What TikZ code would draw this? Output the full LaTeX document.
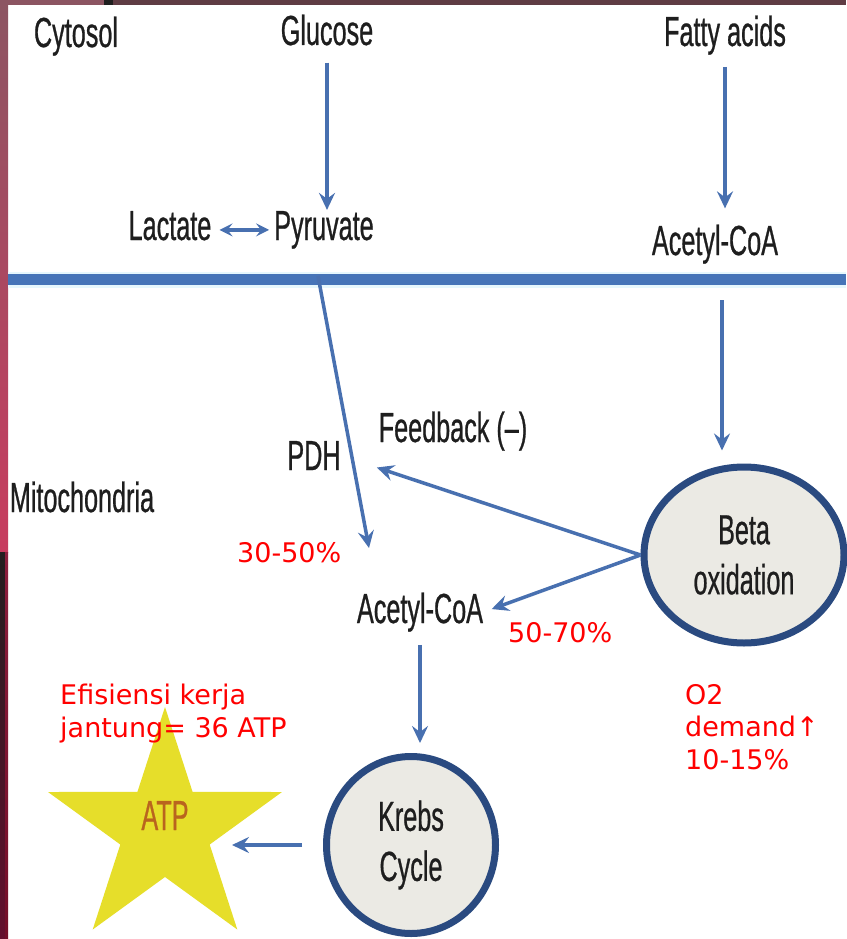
\documentclass[tikz,border=0pt]{standalone}
\usepackage{fontspec}
\setmainfont{Liberation Sans}
\newfontfamily\narrowsans[FakeStretch=0.6,FakeBold=0.6]{Liberation Sans}
\newfontfamily\notesans{DejaVu Sans}
\usetikzlibrary{positioning,arrows.meta,shapes.geometric}

\definecolor{arrowblue}{RGB}{72,112,176}
\definecolor{membblue}{RGB}{70,116,184}
\definecolor{rimblue}{RGB}{42,74,128}
\definecolor{cellfill}{RGB}{235,234,228}
\definecolor{staryellow}{RGB}{230,222,42}
\definecolor{atpbrown}{RGB}{185,100,30}
\definecolor{txtgray}{RGB}{30,30,30}
\definecolor{notered}{RGB}{255,0,0}
\definecolor{frametop}{RGB}{95,60,68}
\definecolor{framemauve}{RGB}{140,85,98}
\definecolor{framepink}{RGB}{200,60,95}
\definecolor{framedark}{RGB}{35,30,32}
\definecolor{framewine}{RGB}{100,15,45}
\definecolor{framemaroon}{RGB}{140,30,62}

\begin{document}
\begin{tikzpicture}[x=1pt, y=-1pt,
    lbl/.style={font=\narrowsans\fontsize{42}{50}\selectfont, text=txtgray, inner sep=0pt, anchor=base},
    cell/.style={ellipse, draw=rimblue, line width=7pt, fill=cellfill, align=center, inner sep=0pt,
                 font=\narrowsans\fontsize{42}{50}\selectfont, text=txtgray},
    note/.style={font=\notesans\fontsize{27}{32.5}\selectfont, text=notered, inner sep=0pt, align=left},
    arr/.style={-{Stealth[length=17pt,width=16pt,inset=6pt]}, line width=3.5pt, arrowblue}
  ]
  \useasboundingbox (0,0) rectangle (846,939);
  \fill[white] (0,0) rectangle (846,939);

  % ---------------- slide frame ----------------
  \fill[frametop] (0,0) rectangle (846,5);
  \fill[framemauve] (0,0) rectangle (104,5);
  \fill[black!88] (104,0) rectangle (113,5);
  \shade[top color=framemauve, bottom color=framepink] (0,0) rectangle (8,552);
  \shade[top color=framedark, bottom color=framewine] (0,552) rectangle (5,939);
  \shade[top color=framemaroon, bottom color=framewine!90!red] (5,552) rectangle (8,939);

  % ---------------- membrane ----------------
  \draw[line width=16pt, cyan!10] (8,279.5) -- (846,279.5);
  \draw[line width=11pt, membblue] (8,279.5) -- (846,279.5);

  % ---------------- cytosol ----------------
  \node[lbl] (cyto)  at (76,47)   {Cytosol};
  \node[lbl] (glu)   at (327,45)  {Glucose};
  \node[lbl] (fa)    at (725,46)  {Fatty acids};
  \node[lbl] (lac)   at (170,240) {Lactate};
  \node[lbl] (pyr)   at (324,240) {Pyruvate};
  \node[lbl] (acoa1) at (715,255) {Acetyl-CoA};

  \draw[arr] (glu.south) -- (glu.south |- pyr.north) [shorten <=17pt, shorten >=1pt];
  \draw[arr, {Stealth[length=13pt,width=13pt,inset=5pt]}-{Stealth[length=13pt,width=13pt,inset=5pt]}]
    (pyr.west -| lac.east) -- (pyr.west) [shorten <=8pt, shorten >=5pt];
  \draw[arr, shorten <=12pt, shorten >=16pt] (fa.south) -- (fa.south |- acoa1.north);

  % ---------------- mitochondria ----------------
  \node[lbl] (mito)  at (82,512)  {Mitochondria};
  \node[lbl] (pdh)   at (314,470) {PDH};
  \node[lbl] (fb)    at (453,442) {Feedback (–)};
  \node[lbl] (acoa2) at (420,623) {Acetyl-CoA};
  \node[cell, minimum width=200pt, minimum height=176pt] (beta)  at (744,555) {Beta\\oxidation};
  \node[cell, minimum width=169pt, minimum height=177pt] (krebs) at (411,845) {Krebs\\Cycle};
  \node[star, star points=5, star point ratio=2.618, minimum size=246pt, fill=staryellow,
        inner sep=0pt, text height=30pt, text depth=30pt, text=atpbrown,
        font=\narrowsans\fontsize{42}{50}\selectfont] (atp) at (165,830) {ATP};

  \coordinate (pyrout) at (318,276);
  \coordinate (pdhtip) at (369,548);
  \coordinate (faout)  at (722,300);

  \draw[arr] (pyrout) -- (pdhtip);
  \draw[arr, shorten >=13pt] (faout) -- (faout |- beta.north);
  \draw[arr, shorten >=38pt] (beta.west) -- (pdh.east);
  \draw[arr, shorten >=9pt] (beta.west) -- (acoa2.east);
  \draw[arr, shorten <=13pt, shorten >=10pt] (acoa2.south) -- (acoa2.south |- krebs.north);
  \draw[arr, shorten <=21pt, shorten >=2pt] (krebs.west) -- (krebs.west -| atp.east);

  % ---------------- notes ----------------
  \node[note, anchor=base west] (pdhshare) at (237,562) {30-50\%};
  \node[note, anchor=base west] (fashare)  at (508,642) {50-70\%};
  \node[note, anchor=north west] (eff)  at (60,684)  {Efisiensi kerja\\jantung= 36 ATP};
  \node[note, anchor=north west] (otwo) at (685,684) {O2\\demand↑\\10-15\%};
\end{tikzpicture}
\end{document}
